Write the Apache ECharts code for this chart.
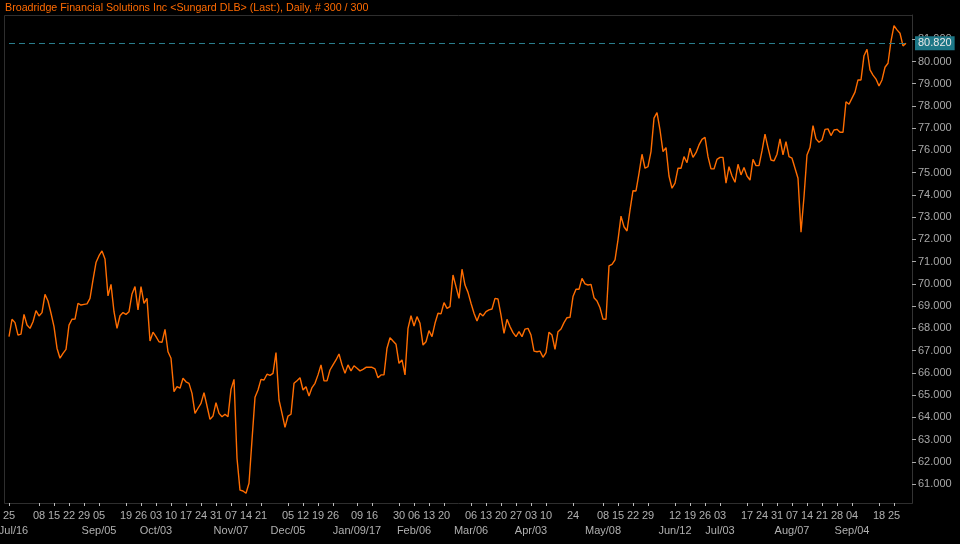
<!DOCTYPE html>
<html>
<head>
<meta charset="utf-8">
<title>Broadridge Financial Solutions Inc</title>
<script src="https://cdn.jsdelivr.net/npm/echarts@6/dist/echarts.min.js"></script>
<style>
    html, body { margin: 0; padding: 0; background: #000; }
    #chart { width: 960px; height: 544px; }
</style>
</head>
<body>
<div id="chart"></div>
<script>
// trading days: Jul 25 2016 .. Sep 29 2017, minus exchange holidays
const startDate = '2016-07-25';
const endDate = '2017-09-29';
const holidays = ['2016-09-05', '2016-11-24', '2016-12-26', '2017-01-02', '2017-01-16',
    '2017-02-20', '2017-04-14', '2017-05-29', '2017-07-04', '2017-09-04'];

// daily close (Last)
const prices = [
    67.63, 68.41, 68.26, 67.70, 67.74, 68.63, 68.15, 68.00, 68.30, 68.80,
    68.56, 68.71, 69.53, 69.23, 68.68, 68.08, 67.11, 66.66, 66.88, 67.06,
    68.15, 68.41, 68.42, 69.13, 69.05, 69.08, 69.10, 69.35, 70.18, 70.96,
    71.27, 71.48, 71.12, 69.46, 69.98, 68.75, 68.00, 68.57, 68.71, 68.63,
    68.75, 69.55, 69.88, 68.83, 69.88, 69.13, 69.35, 67.43, 67.83, 67.63,
    67.40, 67.37, 67.96, 66.95, 66.66, 65.16, 65.38, 65.31, 65.76, 65.60,
    65.53, 65.08, 64.18, 64.41, 64.63, 65.11, 64.51, 63.91, 64.06, 64.66,
    64.18, 64.03, 64.14, 64.03, 65.26, 65.71, 62.16, 60.73, 60.69, 60.59,
    61.04, 62.98, 64.90, 65.23, 65.71, 65.68, 65.94, 65.89, 65.98, 66.91,
    64.78, 64.18, 63.55, 64.06, 64.14, 65.53, 65.65, 65.78, 65.23, 65.38,
    64.96, 65.34, 65.53, 65.91, 66.36, 65.64, 65.64, 66.13, 66.36, 66.58,
    66.85, 66.36, 65.98, 66.36, 66.09, 66.32, 66.21, 66.09, 66.16, 66.25,
    66.25, 66.25, 66.18, 65.78, 65.91, 65.91, 67.11, 67.58, 67.43, 67.29,
    66.43, 66.58, 65.91, 68.00, 68.57, 68.11, 68.53, 68.23, 67.25, 67.40,
    67.90, 67.63, 68.23, 68.68, 68.65, 69.16, 68.90, 68.98, 70.40, 69.88,
    69.35, 70.66, 69.95, 69.62, 69.13, 68.68, 68.33, 68.68, 68.56, 68.75,
    68.83, 68.87, 69.35, 69.32, 68.60, 67.78, 68.41, 68.08, 67.81, 67.63,
    67.85, 67.63, 67.97, 68.00, 67.70, 66.98, 66.95, 66.98, 66.70, 66.91,
    67.83, 67.70, 67.06, 67.85, 67.97, 68.26, 68.48, 68.50, 69.43, 69.76,
    69.76, 70.25, 70.00, 69.95, 69.98, 69.38, 69.23, 68.93, 68.42, 68.41,
    70.81, 70.88, 71.08, 71.98, 73.05, 72.57, 72.38, 73.32, 74.19, 74.18,
    74.97, 75.83, 75.20, 75.27, 75.95, 77.45, 77.70, 76.92, 75.95, 76.13,
    74.85, 74.30, 74.53, 75.20, 75.20, 75.72, 75.45, 76.10, 75.69, 75.90,
    76.25, 76.50, 76.59, 75.72, 75.17, 75.17, 75.60, 75.69, 75.69, 74.53,
    75.27, 74.85, 74.57, 75.38, 74.90, 75.23, 74.85, 74.67, 75.60, 75.32,
    75.32, 75.98, 76.73, 76.13, 75.57, 75.53, 75.83, 76.52, 75.80, 76.40,
    75.72, 75.65, 75.20, 74.75, 72.32, 73.92, 75.80, 76.13, 77.12, 76.52,
    76.37, 76.47, 76.95, 76.97, 76.67, 76.92, 76.95, 76.82, 76.82, 78.19,
    78.08, 78.35, 78.62, 79.17, 79.17, 80.26, 80.55, 79.62, 79.39, 79.21,
    78.90, 79.17, 79.74, 79.92, 80.92, 81.61, 81.42, 81.27, 80.70, 80.82
];

// x tick marks: [trading date, day label, month label]
const xTicks = [
    ['2016-07-25', '25', 'Jul/16'], ['2016-08-08', '08', ''], ['2016-08-15', '15', ''],
    ['2016-08-22', '22', ''], ['2016-08-29', '29', ''], ['2016-09-06', '05', 'Sep/05'],
    ['2016-09-19', '19', ''], ['2016-09-26', '26', ''], ['2016-10-03', '03', 'Oct/03'],
    ['2016-10-10', '10', ''], ['2016-10-17', '17', ''], ['2016-10-24', '24', ''],
    ['2016-10-31', '31', ''], ['2016-11-07', '07', 'Nov/07'], ['2016-11-14', '14', ''],
    ['2016-11-21', '21', ''], ['2016-12-05', '05', 'Dec/05'], ['2016-12-12', '12', ''],
    ['2016-12-19', '19', ''], ['2016-12-27', '26', ''], ['2017-01-09', '09', 'Jan/09/17'],
    ['2017-01-17', '16', ''], ['2017-01-30', '30', ''], ['2017-02-06', '06', 'Feb/06'],
    ['2017-02-13', '13', ''], ['2017-02-21', '20', ''], ['2017-03-06', '06', 'Mar/06'],
    ['2017-03-13', '13', ''], ['2017-03-20', '20', ''], ['2017-03-27', '27', ''],
    ['2017-04-03', '03', 'Apr/03'], ['2017-04-10', '10', ''], ['2017-04-24', '24', ''],
    ['2017-05-08', '08', 'May/08'], ['2017-05-15', '15', ''], ['2017-05-22', '22', ''],
    ['2017-05-30', '29', ''], ['2017-06-12', '12', 'Jun/12'], ['2017-06-19', '19', ''],
    ['2017-06-26', '26', ''], ['2017-07-03', '03', 'Jul/03'], ['2017-07-17', '17', ''],
    ['2017-07-24', '24', ''], ['2017-07-31', '31', ''], ['2017-08-07', '07', 'Aug/07'],
    ['2017-08-14', '14', ''], ['2017-08-21', '21', ''], ['2017-08-28', '28', ''],
    ['2017-09-05', '04', 'Sep/04'], ['2017-09-18', '18', ''], ['2017-09-25', '25', '']
];

const yTicks = [61, 62, 63, 64, 65, 66, 67, 68, 69, 70, 71, 72, 73, 74, 75, 76, 77, 78, 79, 80, 81];
const lastValue = 80.82;
const titleText = 'Broadridge Financial Solutions Inc <Sungard DLB> (Last:), Daily, # 300 / 300';

// build the trading day categories
const dates = [];
const d = new Date(startDate + 'T00:00:00Z');
const end = new Date(endDate + 'T00:00:00Z');
while (d <= end) {
    const s = d.toISOString().slice(0, 10);
    const wd = d.getUTCDay();
    if (wd !== 0 && wd !== 6 && holidays.indexOf(s) < 0) dates.push(s);
    d.setUTCDate(d.getUTCDate() + 1);
}

const tickMap = {};
xTicks.forEach(function (t, i) { tickMap[t[0]] = { day: t[1], month: t[2], first: i === 0 }; });

const FONT = '"Liberation Sans", Arial, sans-serif';
const myChart = echarts.init(document.getElementById('chart'));

const option = {
    backgroundColor: '#000',
    animation: false,
    title: {
        text: titleText,
        left: 0,
        top: -2,
        textStyle: { color: '#ff6a00', fontSize: 10.7, fontWeight: 'normal', fontFamily: FONT }
    },
    grid: { left: 9, right: 54, top: 15, bottom: 41, outerBoundsMode: 'none', containLabel: false },
    graphic: [{
        type: 'rect',
        z: 0,
        shape: { x: 4.5, y: 15.5, width: 908, height: 488 },
        style: { fill: 'none', stroke: '#2e2e2e', lineWidth: 1 }
    }],
    xAxis: {
        type: 'category',
        data: dates,
        boundaryGap: false,
        axisLine: { show: false },
        axisTick: {
            show: true,
            length: 3,
            interval: function (i, v) { return !!tickMap[v]; },
            lineStyle: { color: '#bbb' }
        },
        axisLabel: {
            interval: function (i, v) { return !!tickMap[v]; },
            margin: 5,
            color: '#b0b0b0',
            fontSize: 11,
            fontFamily: FONT,
            lineHeight: 15,
            formatter: function (v) {
                const t = tickMap[v];
                if (!t) return '';
                let s = '{d|' + t.day + '}';
                if (t.month) s += '\n{' + (t.first ? 'm0' : 'm') + '|' + t.month + '}';
                return s;
            },
            rich: {
                d: { color: '#b0b0b0', fontSize: 11, fontFamily: FONT, lineHeight: 15 },
                m: { color: '#b0b0b0', fontSize: 11, fontFamily: FONT, lineHeight: 15 },
                m0: { color: '#b0b0b0', fontSize: 11, fontFamily: FONT, lineHeight: 15, padding: [0, 0, 0, 9] }
            }
        },
        splitLine: { show: false }
    },
    yAxis: {
        type: 'value',
        position: 'right',
        offset: 6,
        min: 60.15,
        max: 82.09,
        axisLine: { show: true, lineStyle: { color: '#333' } },
        axisTick: { show: true, length: 4, customValues: yTicks, lineStyle: { color: '#aaa' } },
        axisLabel: {
            customValues: yTicks,
            margin: 6,
            color: '#a8a8a8',
            fontSize: 11,
            fontFamily: FONT,
            formatter: function (v) { return v.toFixed(3); }
        },
        splitLine: { show: false }
    },
    series: [{
        type: 'line',
        data: prices,
        symbol: 'none',
        lineStyle: { color: '#ff6d00', width: 1.4 },
        z: 3,
        markLine: {
            silent: true,
            symbol: 'none',
            data: [{ yAxis: lastValue }],
            lineStyle: { color: '#2a7d8c', type: [6, 4], width: 1 },
            label: {
                position: 'end',
                distance: 9,
                formatter: function (p) { return p.value.toFixed(3); },
                backgroundColor: '#1c7686',
                color: '#e8e8e8',
                fontSize: 11,
                fontFamily: FONT,
                padding: [2, 3, 1, 3]
            }
        }
    }]
};

myChart.setOption(option);

window.addEventListener('resize', function () {
    myChart.resize();
});
</script>
</body>
</html>
